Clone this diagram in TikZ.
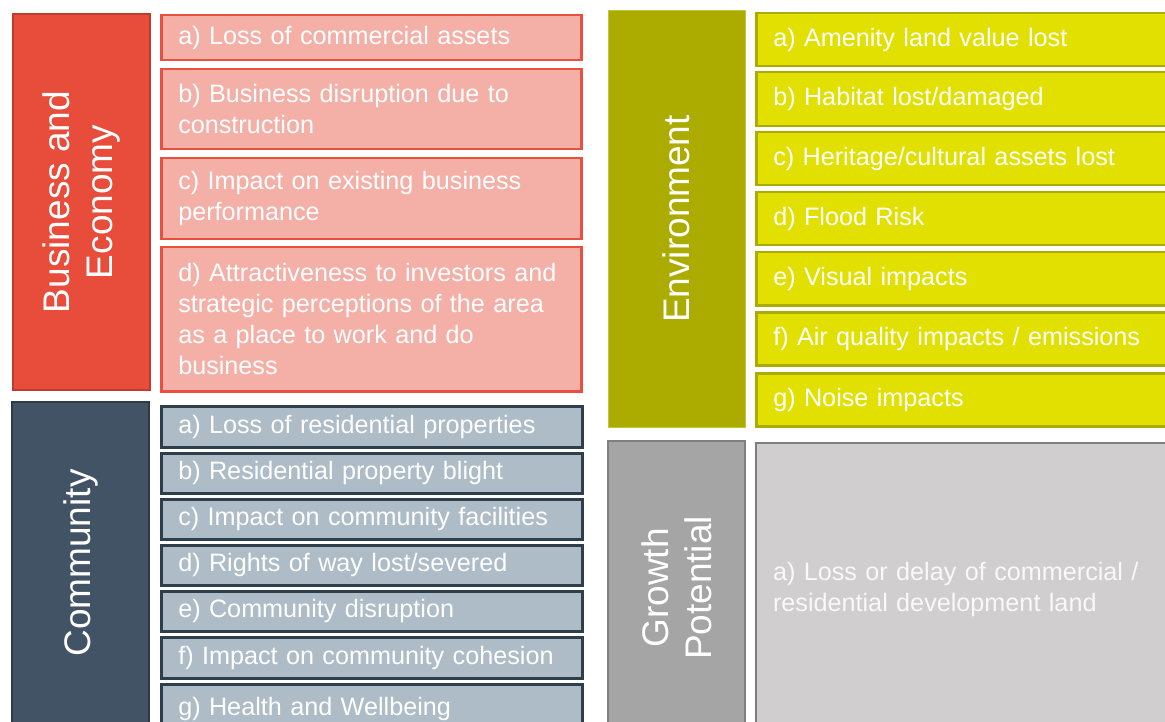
\documentclass[tikz,border=0pt]{standalone}
\usepackage{fontspec}
\setmainfont{Liberation Sans}
\definecolor{busbig}{HTML}{E84C3A}
\definecolor{busbigb}{HTML}{BF3B2E}
\definecolor{bussub}{HTML}{F4AFA6}
\definecolor{bussubb}{HTML}{E8503F}
\definecolor{combig}{HTML}{415364}
\definecolor{combigb}{HTML}{2C3B47}
\definecolor{comsub}{HTML}{ADBCC7}
\definecolor{comsubb}{HTML}{2F3E4B}
\definecolor{envbig}{HTML}{ABAB00}
\definecolor{envbigb}{HTML}{C4C440}
\definecolor{envsub}{HTML}{E1E000}
\definecolor{envsubb}{HTML}{ABAB00}
\definecolor{grobig}{HTML}{A5A5A5}
\definecolor{gro}{HTML}{7F7F7F}
\definecolor{grosub}{HTML}{D0CECE}
\begin{document}
\begin{tikzpicture}[x=1pt,y=-1pt,
  catbox/.style={draw, line width=2pt, text=white, rotate=90,
    font=\fontsize{37}{43}\selectfont, align=center, inner sep=0pt,
    minimum height=137pt},
  subbox/.style={draw, line width=2.5pt, text=white,
    font=\fontsize{25.2}{31}\selectfont, align=left,
    inner xsep=17pt, inner ysep=0pt, anchor=north west},
  lsub/.style={subbox, fill=bussub, draw=bussubb, text width=386pt},
  csub/.style={subbox, fill=comsub, draw=comsubb, text width=387pt},
  esub/.style={subbox, fill=envsub, draw=envsubb, text width=386pt}]
\clip (0,0) rectangle (1165,722);
\fill[white] (0,0) rectangle (1165,722);

% Business and Economy
\node[catbox, fill=busbig, draw=busbigb, minimum width=376pt] (bus) at (81.5,202) {Business and\\Economy};
\node[lsub, minimum height=45pt] (busa) at (160,14) {a) Loss of commercial assets};
\node[lsub, minimum height=80pt] (busb) at (160,68) {b) Business disruption due to\\construction};
\node[lsub, minimum height=81pt] (busc) at (160,157) {c) Impact on existing business\\performance};
\node[lsub, minimum height=144pt] (busd) at (160,246) {d) Attractiveness to investors and\\strategic perceptions of the area\\as a place to work and do\\business};

% Community
\node[catbox, fill=combig, draw=combigb, minimum width=322pt] (com) at (80.5,563) {Community};
\node[csub, minimum height=41pt] (coma) at (160,405) {a) Loss of residential properties};
\node[csub, minimum height=40pt] (comb) at (160,452) {b) Residential property blight};
\node[csub, minimum height=40pt] (comc) at (160,498) {c) Impact on community facilities};
\node[csub, minimum height=40pt] (comd) at (160,544) {d) Rights of way lost/severed};
\node[csub, minimum height=40pt] (come) at (160,590) {e) Community disruption};
\node[csub, minimum height=41pt] (comf) at (160,636) {f) Impact on community cohesion};
\node[csub, minimum height=50pt] (comg) at (160,683) {g) Health and Wellbeing};

% Environment
\node[catbox, fill=envbig, draw=envbigb, line width=1pt, minimum width=416pt] (env) at (676.5,219) {Environment};
\node[esub, minimum height=53pt] (enva) at (755,12) {a) Amenity land value lost};
\node[esub, minimum height=54pt] (envb) at (755,71) {b) Habitat lost/damaged};
\node[esub, minimum height=53pt] (envc) at (755,131) {c) Heritage/cultural assets lost};
\node[esub, minimum height=53pt] (envd) at (755,191) {d) Flood Risk};
\node[esub, minimum height=53pt] (enve) at (755,251) {e) Visual impacts};
\node[esub, minimum height=53pt] (envf) at (755,311) {f) Air quality impacts / emissions};
\node[esub, minimum height=53pt] (envg) at (755,372) {g) Noise impacts};

% Growth Potential
\node[catbox, fill=grobig, draw=gro, minimum width=294pt] (gro) at (676.5,588) {Growth\\Potential};
\node[subbox, fill=grosub, draw=gro, line width=2pt, text width=386pt, minimum height=293pt, text=white!95!gray] (groa) at (755,442) {a) Loss or delay of commercial /\\residential development land};
\end{tikzpicture}
\end{document}
